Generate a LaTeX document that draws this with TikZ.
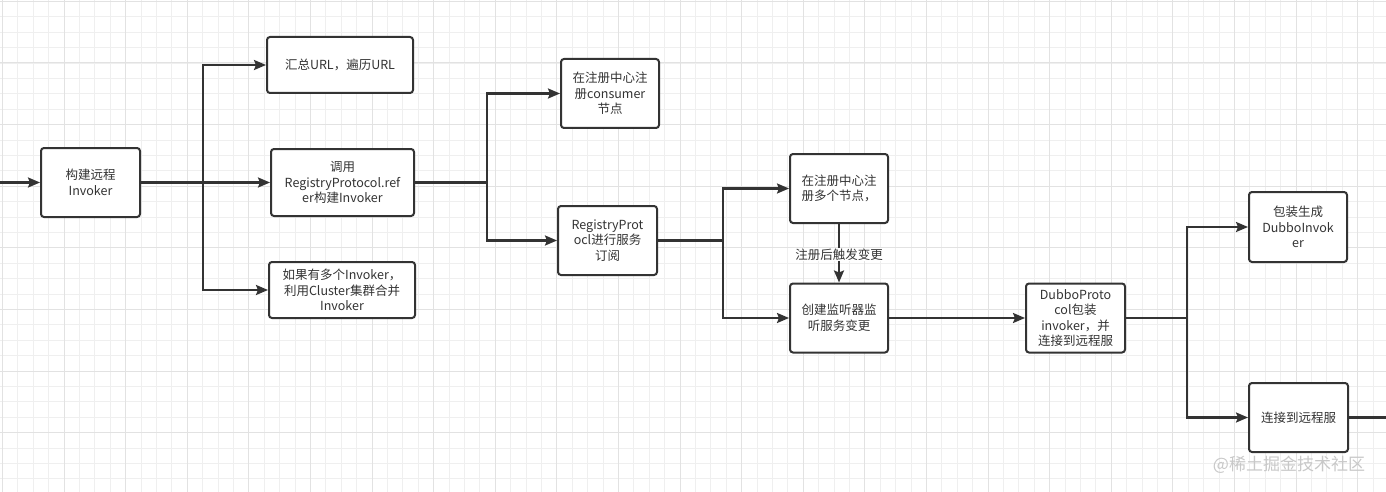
\documentclass[tikz,border=0pt]{standalone}
\usepackage{fontspec}
\setmainfont{Noto Sans CJK SC}
\usetikzlibrary{arrows.meta}
\definecolor{ink}{HTML}{333333}
\definecolor{gridminor}{HTML}{EFEFEF}
\definecolor{gridmajor}{HTML}{E2E2E2}
\definecolor{wmark}{HTML}{C8C8C8}
\tikzset{
  box/.style={draw=ink, line width=2pt, rounded corners=3pt, fill=white,
    text=ink, align=center, inner sep=0pt,
    font=\fontsize{12.5}{15.6}\selectfont},
  conn/.style={draw=ink, line width=2.2pt},
  arr/.style={conn, -{Stealth[length=12pt,width=10pt,inset=2pt]}},
  lbl/.style={fill=white, text=ink, inner sep=1pt, font=\fontsize{12.5}{15.6}\selectfont},
}
\begin{document}
\begin{tikzpicture}[x=1pt,y=-1pt]
\useasboundingbox (0,0) rectangle (1386,492);
\fill[white] (0,0) rectangle (1386,492);
% grid
\foreach \k in {0,...,90} {
  \pgfmathsetmacro\xx{2.4+15.4*\k}
  \draw[gridminor, line width=0.9pt] (\xx,0) -- (\xx,492);
}
\foreach \k in {0,...,32} {
  \pgfmathsetmacro\yy{1.4+15.4*\k}
  \draw[gridminor, line width=0.9pt] (0,\yy) -- (1386,\yy);
}
\foreach \k in {0,...,22} {
  \pgfmathsetmacro\xx{2.4+61.6*\k}
  \draw[gridmajor, line width=1pt] (\xx,0) -- (\xx,492);
}
\foreach \k in {0,...,8} {
  \pgfmathsetmacro\yy{1.4+61.6*\k}
  \draw[gridmajor, line width=1pt] (0,\yy) -- (1386,\yy);
}
% nodes
\node[box, minimum width=99pt, minimum height=69pt] (A) at (90.5,182.5) {构建远程\\Invoker};
\node[box, minimum width=146pt, minimum height=56pt] (B) at (340,65) {汇总URL，遍历URL};
\node[box, minimum width=143pt, minimum height=67pt] (C) at (342.5,182.5) {调用\\RegistryProtocol.ref\\er构建Invoker};
\node[box, minimum width=146pt, minimum height=56pt] (D) at (342,290) {如果有多个Invoker，\\利用Cluster集群合并\\Invoker};
\node[box, minimum width=98pt, minimum height=69pt] (E) at (610,93.5) {在注册中心注\\册consumer\\节点};
\node[box, minimum width=99pt, minimum height=69pt] (F) at (607.5,240.5) {RegistryProt\\ocl进行服务\\订阅};
\node[box, minimum width=98pt, minimum height=69pt] (G) at (839,188.5) {在注册中心注\\册多个节点，};
\node[box, minimum width=98pt, minimum height=69pt] (H) at (839,318) {创建监听器监\\听服务变更};
\node[box, minimum width=99pt, minimum height=69pt] (I) at (1075.5,318) {DubboProto\\col包装\\invoker，并\\连接到远程服};
\node[box, minimum width=98pt, minimum height=70pt] (J) at (1298,227) {包装生成\\DubboInvok\\er};
\node[box, minimum width=99pt, minimum height=69pt] (K) at (1298.5,417.5) {连接到远程服};
% coordinates
\coordinate (in) at (0,182.5);
\coordinate (t1) at (203,182.5);
\coordinate (t2) at (487,182.5);
\coordinate (t3) at (723,240.5);
\coordinate (t4) at (1187,318);
\coordinate (out) at (1386,417.5);
% connectors
\draw[arr] (in) -- (A);
\draw[conn] (A) -- (t1);
\draw[arr] (t1) |- (B);
\draw[arr] (t1) -- (C);
\draw[arr] (t1) |- (D);
\draw[conn] (C) -- (t2);
\draw[arr] (t2) |- (E);
\draw[arr] (t2) |- (F);
\draw[conn] (F) -- (t3);
\draw[arr] (t3) |- (G);
\draw[arr] (t3) |- (H);
\draw[arr] (G) -- node[lbl, pos=0.52] (gl) {注册后触发变更} (H);
\draw[arr] (H) -- (I);
\draw[conn] (I) -- (t4);
\draw[arr] (t4) |- (J);
\draw[arr] (t4) |- (K);
\draw[conn] (K) -- (out);
% watermark
\node[text=wmark, font=\fontsize{17}{20}\selectfont, inner sep=0pt] (wm) at (1289,465) {@稀土掘金技术社区};
\end{tikzpicture}
\end{document}
